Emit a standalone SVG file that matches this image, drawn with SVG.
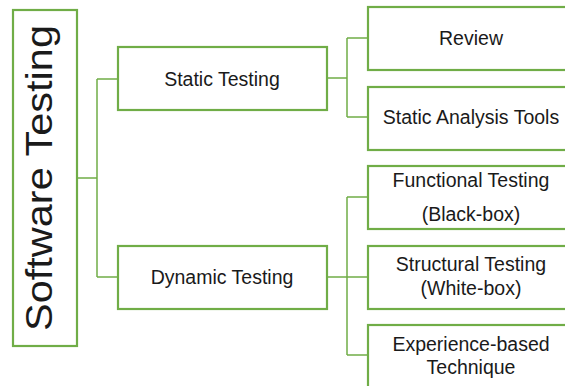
<svg xmlns="http://www.w3.org/2000/svg" width="565" height="386" viewBox="0 0 565 386">
<style>
.box{fill:#fff;stroke:#70AD47;stroke-width:2.2}
.con{fill:none;stroke:#70AD47;stroke-width:1.5}
.t{font-family:"Liberation Sans",Arial,sans-serif;font-size:19.5px;fill:#1a1a1a;text-anchor:middle}
</style>
<rect width="565" height="386" fill="#fff"/>
<g id="connectors">
<path class="con" d="M77 178H97M97 79V277M97 79H118M97 277H118"/>
<path class="con" d="M327 78H347M347 38V117M347 38H368M347 117H368"/>
<path class="con" d="M327 277H368M347 197V355M347 197H368M347 355H368"/>
</g>
<g id="software-testing">
<rect class="box" x="13" y="10" width="64" height="336"/>
<text class="t" transform="translate(52,178) rotate(-90)" x="0" y="0" style="font-size:37px" textLength="306" lengthAdjust="spacingAndGlyphs">Software Testing</text>
</g>
<g id="static-testing">
<rect class="box" x="118" y="47" width="209" height="63"/>
<text class="t" x="222" y="86">Static Testing</text>
</g>
<g id="dynamic-testing">
<rect class="box" x="118" y="246" width="209" height="63"/>
<text class="t" x="222" y="284">Dynamic Testing</text>
</g>
<g id="review">
<rect class="box" x="368" y="7" width="208" height="63"/>
<text class="t" x="471" y="45">Review</text>
</g>
<g id="static-analysis-tools">
<rect class="box" x="368" y="87" width="208" height="63"/>
<text class="t" x="471" y="124">Static Analysis Tools</text>
</g>
<g id="functional-testing">
<rect class="box" x="368" y="166" width="208" height="63"/>
<text class="t" x="471" y="187">Functional Testing</text>
<text class="t" x="471" y="221">(Black-box)</text>
</g>
<g id="structural-testing">
<rect class="box" x="368" y="246" width="208" height="63"/>
<text class="t" x="471" y="271">Structural Testing</text>
<text class="t" x="471" y="295">(White-box)</text>
</g>
<g id="experience-based">
<rect class="box" x="368" y="325" width="208" height="70"/>
<text class="t" x="471" y="351">Experience-based</text>
<text class="t" x="471" y="374">Technique</text>
</g>
</svg>
